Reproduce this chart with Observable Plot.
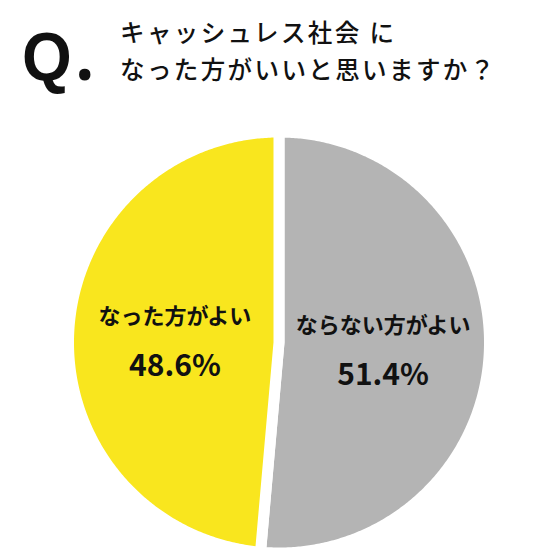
<!DOCTYPE html>
<html>
<head>
<meta charset="utf-8">
<script src="https://cdn.jsdelivr.net/npm/d3@7"></script>
<script src="https://cdn.jsdelivr.net/npm/@observablehq/plot@0.6"></script>
<style>
  html, body { margin: 0; padding: 0; background: #fff; }
  #wrap { width: 546px; height: 559px; position: relative; overflow: hidden; }
  #head { position: relative; width: 546px; height: 110px; }
  #q { position: absolute; left: 22px; top: 19px; font-family: "Liberation Sans", Arial, sans-serif; font-weight: 700; font-size: 68px; line-height: 68px; color: #111; transform: scaleX(0.94); transform-origin: left top; white-space: nowrap; }
  #dot { font-family: "Noto Sans", sans-serif; font-size: 70px; margin-left: 4px; }
  .t { position: absolute; left: 120px; font-family: "Noto Sans CJK JP", sans-serif; font-weight: 500; font-size: 24.5px; line-height: 24px; letter-spacing: 2.4px; color: #111; white-space: nowrap; }
  #t1 { top: 20px; }
  #t2 { top: 57px; }
  svg { display: block; }
</style>
</head>
<body>
<div id="wrap">
  <div id="head">
    <div id="q">Q<span id="dot">.</span></div>
    <div class="t" id="t1">キャッシュレス社会 に</div>
    <div class="t" id="t2">なった方がいいと思いますか？</div>
  </div>
  <div id="chart"></div>
</div>
<script>
const categories = ["ならない方がよい", "なった方がよい"];
const values = [51.4, 48.6];
const pctLabels = ["51.4%", "48.6%"];
const colors = ["#b4b4b4", "#f9e61e"];

const arcs = d3.pie().sort(null).value(d => d)(values);

const pts = [];
arcs.forEach((a, i) => {
  pts.push({cat: categories[i], x: 0, y: 0});
  const n = Math.ceil((a.endAngle - a.startAngle) / (Math.PI / 360));
  for (let k = 0; k <= n; k++) {
    const t = a.startAngle + (a.endAngle - a.startAngle) * k / n;
    pts.push({cat: categories[i], x: Math.sin(t), y: Math.cos(t)});
  }
});

const lab = arcs.map((a, i) => {
  const m = (a.startAngle + a.endAngle) / 2;
  return {name: categories[i], pct: pctLabels[i], x: 0.495 * Math.sin(m), y: 0.495 * Math.cos(m)};
});

const chart = Plot.plot({
  width: 546,
  height: 449,
  marginLeft: 68,
  marginRight: 57,
  marginTop: 21.5,
  marginBottom: 6.5,
  x: {domain: [-1, 1], axis: null},
  y: {domain: [-1, 1], axis: null},
  color: {domain: categories, range: colors},
  marks: [
    Plot.line(pts, {x: "x", y: "y", z: "cat", fill: "cat", stroke: "white", strokeWidth: 11, curve: "linear-closed"}),
    Plot.text(lab, {x: "x", y: "y", text: "name", dy: -21, fontSize: 22, fontWeight: 700, fill: "#111", fontFamily: "Noto Sans CJK JP", style: "letter-spacing:1px"}),
    Plot.text(lab, {x: "x", y: "y", text: "pct", dy: 28, fontSize: 30, fontWeight: 700, fill: "#111", fontFamily: "Noto Sans CJK JP"})
  ]
});
document.getElementById("chart").appendChild(chart);
</script>
</body>
</html>
